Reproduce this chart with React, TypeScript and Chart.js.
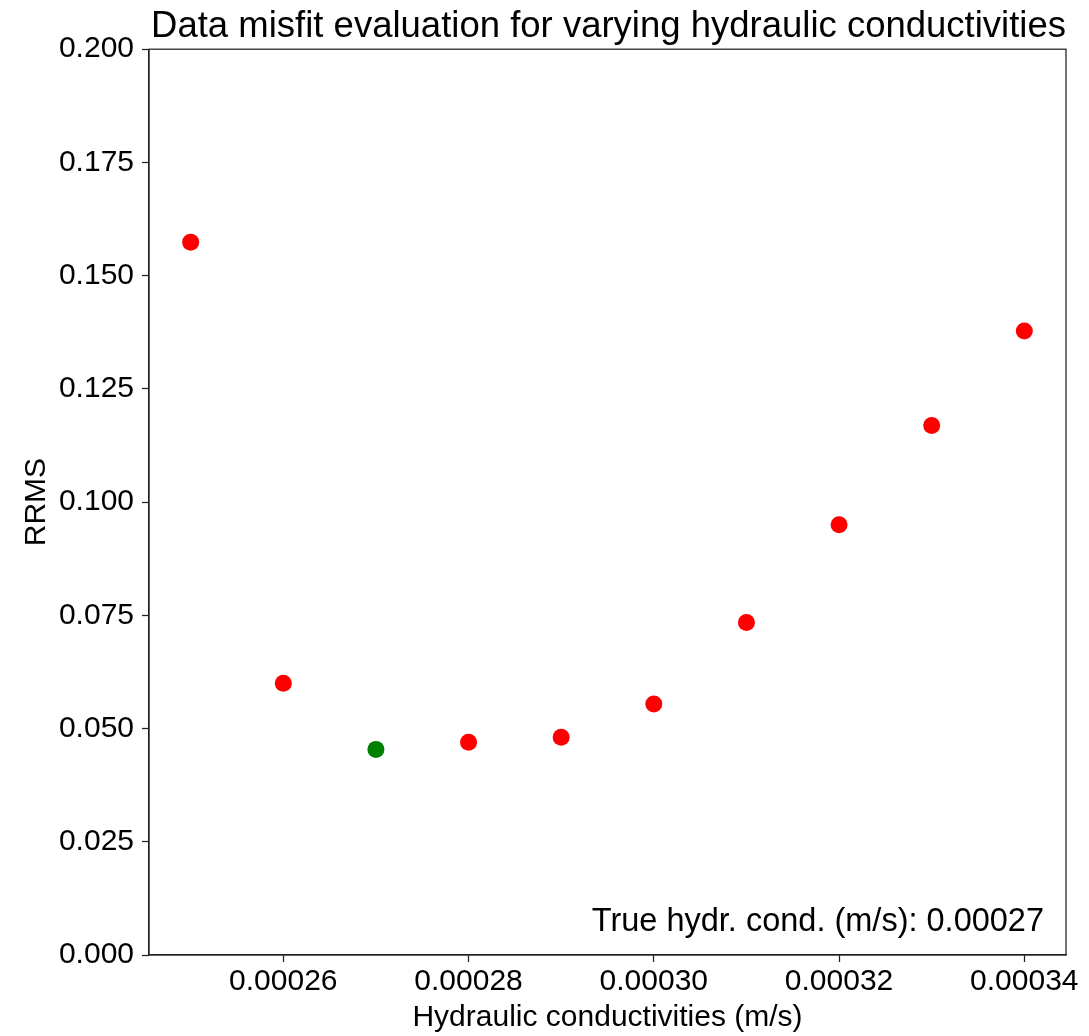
import React, { useEffect, useRef } from "react";
import { Chart, registerables } from "chart.js";

Chart.register(...registerables);

const conductivities = [0.00025, 0.00026, 0.00027, 0.00028, 0.00029, 0.0003, 0.00031, 0.00032, 0.00033, 0.00034];
const rrms = [0.1574, 0.06, 0.0454, 0.047, 0.0481, 0.0554, 0.0734, 0.095, 0.1169, 0.1378];
const trueConductivity = 0.00027;
const xTicks = [0.00026, 0.00028, 0.0003, 0.00032, 0.00034];
const yTicks = [0, 0.025, 0.05, 0.075, 0.1, 0.125, 0.15, 0.175, 0.2];

const FONT = "'Liberation Sans', Arial, sans-serif";

const framePlugin = {
  id: "frame",
  afterDraw(chart: any) {
    const { ctx, chartArea } = chart;
    ctx.save();
    ctx.strokeStyle = "#222";
    ctx.lineWidth = 1.25;
    ctx.strokeRect(chartArea.left, chartArea.top, chartArea.right - chartArea.left, chartArea.bottom - chartArea.top);
    ctx.font = `32.5px ${FONT}`;
    ctx.fillStyle = "#000";
    ctx.textAlign = "right";
    ctx.textBaseline = "middle";
    ctx.fillText(`True hydr. cond. (m/s): ${trueConductivity.toFixed(5)}`, chartArea.right - 22, chartArea.bottom - 33);
    ctx.restore();
  },
};

export default function App() {
  const ref = useRef<HTMLCanvasElement>(null);
  useEffect(() => {
    if (!ref.current) return;
    const chart = new Chart(ref.current, {
      type: "scatter",
      data: {
        datasets: [
          {
            data: conductivities.map((x, i) => ({ x, y: rrms[i] })),
            pointRadius: 8.5,
            pointHoverRadius: 8.5,
            borderWidth: 0,
            pointBorderWidth: 0,
            pointBackgroundColor: conductivities.map((x) => (Math.abs(x - trueConductivity) < 1e-9 ? "#008000" : "#ff0000")),
          },
        ],
      },
      options: {
        responsive: false,
        animation: false,
        layout: { padding: { left: 0, right: 23, top: 0, bottom: 0 } },
        plugins: {
          legend: { display: false },
          tooltip: { enabled: false },
          title: {
            display: true,
            text: "Data misfit evaluation for varying hydraulic conductivities",
            color: "#000",
            font: { family: FONT, size: 36.5, weight: "normal" as any, lineHeight: 1.2 },
            padding: { top: 5.4, bottom: 0 },
            align: "end",
          },
        },
        scales: {
          x: {
            type: "linear",
            min: 0.0002455,
            max: 0.0003445,
            afterFit: (s: any) => { s.height = 81; },
            afterBuildTicks: (s: any) => { s.ticks = xTicks.map((v) => ({ value: v })); },
            ticks: {
              color: "#000",
              font: { family: FONT, size: 30 },
              padding: 2,
              maxRotation: 0,
              autoSkip: false,
              callback: (v: any) => Number(v).toFixed(5),
            },
            grid: { drawOnChartArea: false, tickLength: 7, color: "#222", tickWidth: 1.25 },
            border: { display: true, color: "#222", width: 1.25 },
            title: {
              display: true,
              text: "Hydraulic conductivities (m/s)",
              color: "#000",
              font: { family: FONT, size: 30 },
              padding: { top: 0, bottom: 0 },
            },
          },
          y: {
            type: "linear",
            min: 0,
            max: 0.2,
            afterFit: (s: any) => { s.width = 149; },
            afterBuildTicks: (s: any) => { s.ticks = yTicks.map((v) => ({ value: v })); },
            ticks: {
              color: "#000",
              font: { family: FONT, size: 30 },
              padding: 8,
              autoSkip: false,
              callback: (v: any) => Number(v).toFixed(3),
            },
            grid: { drawOnChartArea: false, tickLength: 7, color: "#222", tickWidth: 1.25 },
            border: { display: true, color: "#222", width: 1.25 },
            title: {
              display: true,
              text: "RRMS",
              color: "#000",
              font: { family: FONT, size: 30 },
              padding: { top: 19, bottom: 0 },
            },
          },
        },
      },
      plugins: [framePlugin],
    });
    return () => chart.destroy();
  }, []);
  return (
    <div style={{ position: "absolute", left: 0, top: 0, width: 1089, height: 1036, background: "#fff" }}>
      <canvas ref={ref} width={1089} height={1036} />
    </div>
  );
}
